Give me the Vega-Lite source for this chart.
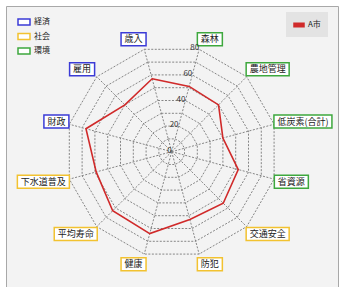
{
  "$schema": "https://vega.github.io/schema/vega-lite/v6.json",
  "width": 332,
  "height": 281,
  "padding": {"left": 6, "top": 6, "right": 1, "bottom": 0},
  "autosize": "none",
  "background": "#ffffff",
  "config": {
    "view": {"fill": "#f3f3f3", "stroke": "#a8a8a8", "strokeWidth": 1},
    "font": "Noto Sans CJK JP",
    "legend": {"labelFont": "Noto Sans CJK JP", "labelFontSize": 8, "labelColor": "#222222", "padding": 0}
  },
  "datasets": {
    "scores": [
      {"i": 0, "label": "歳入", "group": "経済", "value": 57, "series": "A市"},
      {"i": 1, "label": "森林", "group": "環境", "value": 51, "series": "A市"},
      {"i": 2, "label": "農地管理", "group": "環境", "value": 50, "series": "A市"},
      {"i": 3, "label": "低炭素(合計)", "group": "環境", "value": 40, "series": "A市"},
      {"i": 4, "label": "省資源", "group": "環境", "value": 52, "series": "A市"},
      {"i": 5, "label": "交通安全", "group": "社会", "value": 55, "series": "A市"},
      {"i": 6, "label": "防犯", "group": "社会", "value": 53, "series": "A市"},
      {"i": 7, "label": "健康", "group": "社会", "value": 64, "series": "A市"},
      {"i": 8, "label": "平均寿命", "group": "社会", "value": 63, "series": "A市"},
      {"i": 9, "label": "下水道普及", "group": "社会", "value": 59, "series": "A市"},
      {"i": 10, "label": "財政", "group": "経済", "value": 67, "series": "A市"},
      {"i": 11, "label": "雇用", "group": "経済", "value": 50, "series": "A市"}
    ],
    "grid": [
      {"i": 0, "levels": [10, 20, 30, 40, 50, 60, 70, 80]},
      {"i": 1, "levels": [10, 20, 30, 40, 50, 60, 70, 80]},
      {"i": 2, "levels": [10, 20, 30, 40, 50, 60, 70, 80]},
      {"i": 3, "levels": [10, 20, 30, 40, 50, 60, 70, 80]},
      {"i": 4, "levels": [10, 20, 30, 40, 50, 60, 70, 80]},
      {"i": 5, "levels": [10, 20, 30, 40, 50, 60, 70, 80]},
      {"i": 6, "levels": [10, 20, 30, 40, 50, 60, 70, 80]},
      {"i": 7, "levels": [10, 20, 30, 40, 50, 60, 70, 80]},
      {"i": 8, "levels": [10, 20, 30, 40, 50, 60, 70, 80]},
      {"i": 9, "levels": [10, 20, 30, 40, 50, 60, 70, 80]},
      {"i": 10, "levels": [10, 20, 30, 40, 50, 60, 70, 80]},
      {"i": 11, "levels": [10, 20, 30, 40, 50, 60, 70, 80]}
    ],
    "ticks": [{"tick": 0}, {"tick": 20}, {"tick": 40}, {"tick": 60}, {"tick": 80}]
  },
  "layer": [
    {
      "data": {"name": "grid"},
      "transform": [
        {"flatten": ["levels"], "as": ["level"]},
        {"calculate": "(datum.i*30-15)*PI/180", "as": "a"},
        {"calculate": "datum.level*1.325*sin(datum.a)", "as": "x"},
        {"calculate": "datum.level*1.325*cos(datum.a)", "as": "y"}
      ],
      "mark": {"type": "line", "interpolate": "linear-closed", "stroke": "#858585", "strokeWidth": 1, "strokeDash": [2, 1.5]},
      "encoding": {
        "x": {"field": "x", "type": "quantitative", "scale": {"domain": [-165.7, 166.3], "nice": false, "zero": false}, "axis": null},
        "y": {"field": "y", "type": "quantitative", "scale": {"domain": [-135.3, 145.7], "nice": false, "zero": false}, "axis": null},
        "detail": {"field": "level", "type": "nominal"},
        "order": {"field": "i", "type": "quantitative"}
      }
    },
    {
      "data": {"name": "scores"},
      "transform": [
        {"calculate": "(datum.i*30-15)*PI/180", "as": "a"},
        {"calculate": "0", "as": "x0"},
        {"calculate": "0", "as": "y0"},
        {"calculate": "80*1.325*sin(datum.a)", "as": "x2"},
        {"calculate": "80*1.325*cos(datum.a)", "as": "y2"}
      ],
      "mark": {"type": "rule", "stroke": "#858585", "strokeWidth": 1, "strokeDash": [2, 1.5]},
      "encoding": {
        "x": {"field": "x0", "type": "quantitative"},
        "y": {"field": "y0", "type": "quantitative"},
        "x2": {"field": "x2"},
        "y2": {"field": "y2"}
      }
    },
    {
      "data": {"name": "scores"},
      "transform": [
        {"calculate": "(datum.i*30-15)*PI/180", "as": "a"},
        {"calculate": "datum.value*1.325*sin(datum.a)", "as": "x"},
        {"calculate": "datum.value*1.325*cos(datum.a)", "as": "y"}
      ],
      "mark": {"type": "line", "interpolate": "linear-closed", "strokeWidth": 1.6},
      "encoding": {
        "x": {"field": "x", "type": "quantitative"},
        "y": {"field": "y", "type": "quantitative"},
        "order": {"field": "i", "type": "quantitative"},
        "color": {
          "field": "series", "type": "nominal",
          "scale": {"domain": ["A市"], "range": ["#d02a2a"]},
          "legend": {
            "title": null, "orient": "none", "legendX": 280, "legendY": 6,
            "fillColor": "#e3e3e3", "padding": 7,
            "symbolType": "M-1,-0.35H1V0.35H-1Z", "symbolSize": 100,
            "labelOffset": 3,
            "labelExpr": "datum.label + '      '",
            "encode": {"symbols": {"update": {"fill": {"value": "#d02a2a"}, "stroke": {"value": "transparent"}}}}
          }
        }
      }
    },
    {
      "data": {"name": "scores"},
      "transform": [
        {"calculate": "(datum.i*30-15)*PI/180", "as": "a"},
        {"calculate": "length(replace(datum.label, regexp('[()]', 'g'), ''))", "as": "nf"},
        {"calculate": "(9*datum.nf + 3*(length(datum.label)-datum.nf) + 7)/2", "as": "hw"},
        {"calculate": "(110 + datum.hw)*sin(datum.a) + (sin(datum.a) > 0 ? 1 : -1)*(13.4*abs(cos(datum.a)) - 6.5)", "as": "cx"},
        {"calculate": "(110 + 6.5)*cos(datum.a)", "as": "cy"},
        {"calculate": "datum.cx - datum.hw", "as": "bx"},
        {"calculate": "datum.cx + datum.hw", "as": "bx2"},
        {"calculate": "datum.cy - 6.5", "as": "by"},
        {"calculate": "datum.cy + 6.5", "as": "by2"}
      ],
      "mark": {"type": "rect", "fill": "#ffffff", "strokeWidth": 1.5},
      "encoding": {
        "x": {"field": "bx", "type": "quantitative"},
        "x2": {"field": "bx2"},
        "y": {"field": "by", "type": "quantitative"},
        "y2": {"field": "by2"},
        "stroke": {
          "field": "group", "type": "nominal",
          "scale": {"domain": ["経済", "社会", "環境"], "range": ["#3b3bd6", "#f2c230", "#3ea83e"]},
          "legend": {
            "title": null, "orient": "none", "legendX": 11, "legendY": 9,
            "symbolType": "M-1,-0.5H1V0.5H-1Z", "symbolSize": 144, "symbolStrokeWidth": 1.5,
            "rowPadding": 1.5, "labelOffset": 3,
            "encode": {"symbols": {"update": {"fill": {"value": "#ffffff"}}}}
          }
        }
      }
    },
    {
      "data": {"name": "scores"},
      "transform": [
        {"calculate": "(datum.i*30-15)*PI/180", "as": "a"},
        {"calculate": "length(replace(datum.label, regexp('[()]', 'g'), ''))", "as": "nf"},
        {"calculate": "(9*datum.nf + 3*(length(datum.label)-datum.nf) + 7)/2", "as": "hw"},
        {"calculate": "(110 + datum.hw)*sin(datum.a) + (sin(datum.a) > 0 ? 1 : -1)*(13.4*abs(cos(datum.a)) - 6.5)", "as": "cx"},
        {"calculate": "(110 + 6.5)*cos(datum.a)", "as": "cy"}
      ],
      "mark": {"type": "text", "fontSize": 9, "color": "#222222", "align": "center", "baseline": "middle", "font": "Noto Sans CJK JP"},
      "encoding": {
        "x": {"field": "cx", "type": "quantitative"},
        "y": {"field": "cy", "type": "quantitative"},
        "text": {"field": "label", "type": "nominal"}
      }
    },
    {
      "data": {"name": "ticks"},
      "transform": [
        {"calculate": "datum.tick*1.325*sin(15*PI/180)", "as": "x"},
        {"calculate": "datum.tick*1.325*cos(15*PI/180)", "as": "y"}
      ],
      "mark": {"type": "text", "fontSize": 8, "color": "#333333", "align": "right", "baseline": "middle", "dx": 0, "dy": -1, "font": "Noto Sans CJK JP"},
      "encoding": {
        "x": {"field": "x", "type": "quantitative"},
        "y": {"field": "y", "type": "quantitative"},
        "text": {"field": "tick", "type": "quantitative"}
      }
    }
  ]
}
